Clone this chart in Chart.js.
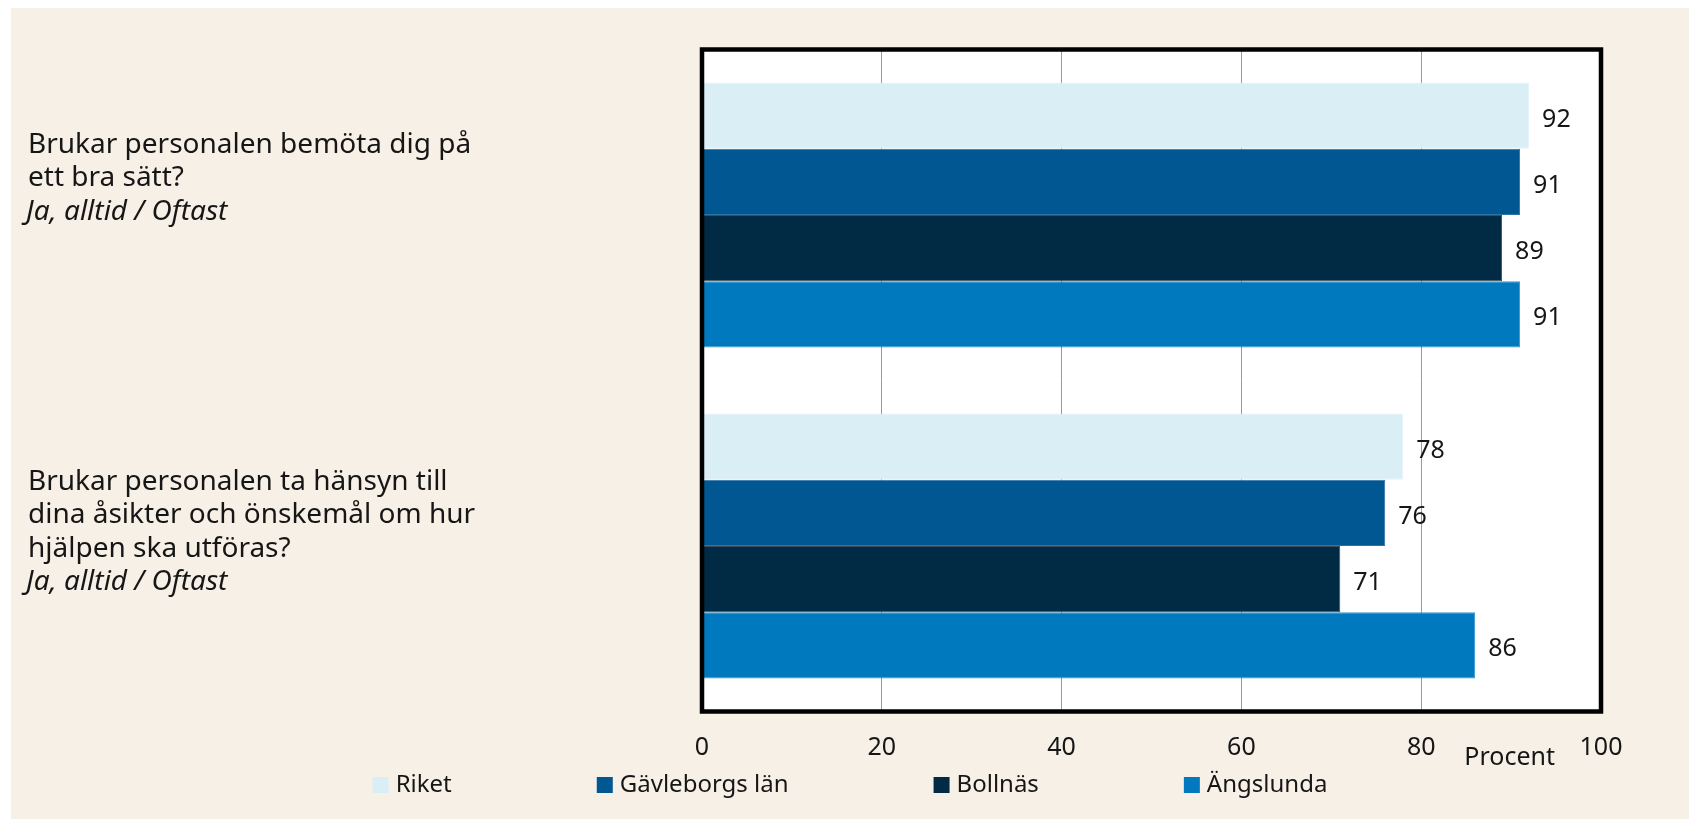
<!DOCTYPE html>
<html>
<head>
<meta charset="utf-8">
<script src="https://cdn.jsdelivr.net/npm/chart.js@4"></script>
<style>
html,body{margin:0;padding:0;background:#fff;}
#wrap{position:absolute;left:11px;top:8px;width:1678px;height:811px;background:#f7f0e6;}
</style>
</head>
<body>
<div id="wrap"><canvas id="chart" width="1678" height="811"></canvas></div>
<script>
// questions (categories), one row of lines each; last line is the italic answer
const categories = ["Bemötande", "Hänsyn"];
const questionLines = [
  ["Brukar personalen bemöta dig på", "ett bra sätt?"],
  ["Brukar personalen ta hänsyn till", "dina åsikter och önskemål om hur", "hjälpen ska utföras?"]
];
const answerLine = "Ja, alltid / Oftast";
const labelTopOffset = [-62, -56]; // first baseline relative to the category centre

const seriesNames = ["Riket", "Gävleborgs län", "Bollnäs", "Ängslunda"];
const riket = [92, 78];
const gavleborg = [91, 76];
const bollnas = [89, 71];
const angslunda = [91, 86];
const xTicks = [0, 20, 40, 60, 80, 100];

const fills = ["#daeef5", "#005791", "#012a44", "#0079be"];
const edges = ["#e6f3f8", "#2f72a6", "#3c4c5a", "#3796cf"];
const ink = "#161616";
const FONT = '"Noto Sans", "Open Sans", sans-serif';

const decor = {
  id: "decor",
  beforeDraw(chart){
    const {ctx, chartArea:a} = chart;
    ctx.save();
    ctx.fillStyle = "#fff";
    ctx.fillRect(a.left, a.top, a.right-a.left, a.bottom-a.top);
    ctx.restore();
  },
  afterDatasetsDraw(chart){
    const ctx = chart.ctx;
    ctx.save();
    ctx.font = "25px " + FONT;
    ctx.fillStyle = ink; ctx.textBaseline = "middle"; ctx.textAlign = "left";
    chart.data.datasets.forEach((ds,i)=>{
      chart.getDatasetMeta(i).data.forEach((bar,j)=>{
        ctx.fillText(String(ds.data[j]), bar.x+13, bar.y+4);
      });
    });
    ctx.restore();
  },
  afterDraw(chart){
    const {ctx, chartArea:a, scales} = chart;
    ctx.save();
    // plot frame
    ctx.strokeStyle = "#000"; ctx.lineWidth = 4.5;
    ctx.strokeRect(a.left, a.top, a.right-a.left, a.bottom-a.top);

    // question labels on the left
    ctx.fillStyle = ink; ctx.textAlign = "left"; ctx.textBaseline = "alphabetic";
    categories.forEach((c,i)=>{
      let y = scales.y.getPixelForValue(i) + labelTopOffset[i];
      ctx.font = "28px " + FONT;
      questionLines[i].forEach(line=>{ ctx.fillText(line, 17, y); y += 33.3; });
      ctx.font = "italic 28px " + FONT;
      ctx.fillText(answerLine, 15, y);
    });

    // axis title
    ctx.font = "25px " + FONT;
    ctx.fillText("Procent", scales.x.getPixelForValue(84.8), a.bottom + 53);

    // legend
    ctx.font = "24px " + FONT;
    const box = 16, gapText = 7, gapItem = 145;
    const widths = seriesNames.map(n => box + gapText + ctx.measureText(n).width);
    const total = widths.reduce((s,w)=>s+w,0) + gapItem*(seriesNames.length-1);
    let x = chart.width/2 - total/2;
    const top = chart.height - 42;
    seriesNames.forEach((n,i)=>{
      ctx.fillStyle = fills[i];
      ctx.fillRect(x, top, box, box);
      ctx.fillStyle = ink;
      ctx.fillText(n, x + box + gapText, top + box - 1);
      x += widths[i] + gapItem;
    });
    ctx.restore();
  }
};

const values = [riket, gavleborg, bollnas, angslunda];
new Chart(document.getElementById("chart"), {
  type: "bar",
  data: {
    labels: categories,
    datasets: seriesNames.map((n,i)=>({
      label: n, data: values[i],
      backgroundColor: fills[i], borderColor: edges[i], borderWidth: 1,
      categoryPercentage: 0.8, barPercentage: 1.0
    }))
  },
  options: {
    indexAxis: "y",
    responsive: false,
    animation: false,
    layout: {padding: {left: 691, right: 88, top: 41.5, bottom: 47.5}},
    plugins: {legend: {display: false}, tooltip: {enabled: false}},
    scales: {
      y: {display: false},
      x: {
        min: 0, max: 100,
        afterBuildTicks: ax => { ax.ticks = xTicks.map(v => ({value: v})); },
        afterFit: ax => { ax.height = 60; },
        ticks: {font: {family: FONT, size: 25}, color: ink, padding: 21},
        grid: {color: "#9a9a9a", lineWidth: 1, drawTicks: false},
        border: {display: false}
      }
    }
  },
  plugins: [decor]
});
</script>
</body>
</html>
